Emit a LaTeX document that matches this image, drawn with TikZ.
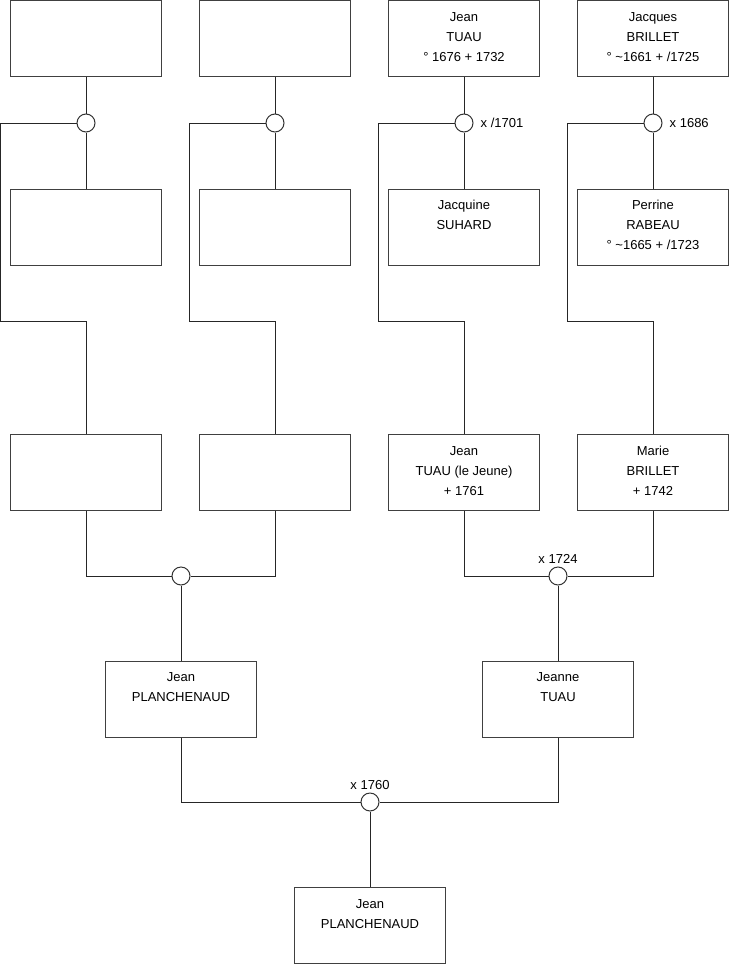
\documentclass[tikz,border=0pt]{standalone}
\usepackage{fontspec}
\setmainfont{Liberation Sans}
\usetikzlibrary{positioning}

\newcommand{\kinline}{\rule[-5pt]{0pt}{15pt}}
\newcommand{\kin}[3]{\kinline#1\\\kinline#2\\\kinline#3}

\begin{document}
\begin{tikzpicture}[
    x=1pt, y=-1pt,
    person/.style={draw=black!75, line width=1pt, minimum width=151pt, minimum height=76pt, align=center, inner sep=0pt, font=\fontsize{13}{20}\selectfont},
    union/.style={draw=black!80, line width=1pt, circle, fill=white, minimum size=18pt, inner sep=0pt},
    wedding/.style={font=\fontsize{13}{15}\selectfont, inner sep=1pt},
    link/.style={line width=1pt, draw=black!85}
]

\useasboundingbox (0,0) rectangle (740,975);

\node[person] (a1) at (86,38.5) {};
\node[person] (a2) at (275,38.5) {};
\node[person] (a3) at (464,38.5) {\kin{Jean}{TUAU}{° 1676 + 1732}};
\node[person] (a4) at (653,38.5) {\kin{Jacques}{BRILLET}{° \textasciitilde1661 + /1725}};

\node[person] (b1) at (86,227) {};
\node[person] (b2) at (275,227) {};
\node[person] (b3) at (464,227) {\kin{Jacquine}{SUHARD}{}};
\node[person] (b4) at (653,227) {\kin{Perrine}{RABEAU}{° \textasciitilde1665 + /1723}};

\node[person] (c1) at (86,472.5) {};
\node[person] (c2) at (275,472.5) {};
\node[person] (c3) at (464,472.5) {\kin{Jean}{TUAU (le Jeune)}{+ 1761}};
\node[person] (c4) at (653,472.5) {\kin{Marie}{BRILLET}{+ 1742}};

\node[person] (d1) at (181,699) {\kin{Jean}{PLANCHENAUD}{}};
\node[person] (d2) at (558,699) {\kin{Jeanne}{TUAU}{}};

\node[person] (e1) at (370,925.5) {\kin{Jean}{PLANCHENAUD}{}};

\node[union] (m1) at (86,123) {};
\node[union] (m2) at (275,123) {};
\node[union] (m3) at (464,123) {};
\node[union] (m4) at (653,123) {};
\node[union] (m5) at (181,576) {};
\node[union] (m6) at (558,576) {};
\node[union] (m7) at (370,802) {};

\node[wedding, right=6pt of m3] {x /1701};
\node[wedding, right=6pt of m4] {x 1686};
\node[wedding, above=2pt of m6] {x 1724};
\node[wedding, above=2pt of m7] {x 1760};

\draw[link] (a1) -- (m1) -- (b1);
\draw[link] (a2) -- (m2) -- (b2);
\draw[link] (a3) -- (m3) -- (b3);
\draw[link] (a4) -- (m4) -- (b4);

\draw[link] (m1.west) -| ++(-76,198) -| (c1.north);
\draw[link] (m2.west) -| ++(-76,198) -| (c2.north);
\draw[link] (m3.west) -| ++(-76,198) -| (c3.north);
\draw[link] (m4.west) -| ++(-76,198) -| (c4.north);

\draw[link] (c1.south) |- (m5.west);
\draw[link] (c2.south) |- (m5.east);
\draw[link] (c3.south) |- (m6.west);
\draw[link] (c4.south) |- (m6.east);

\draw[link] (m5) -- (d1);
\draw[link] (m6) -- (d2);

\draw[link] (d1.south) |- (m7.west);
\draw[link] (d2.south) |- (m7.east);
\draw[link] (m7) -- (e1);

\end{tikzpicture}
\end{document}
